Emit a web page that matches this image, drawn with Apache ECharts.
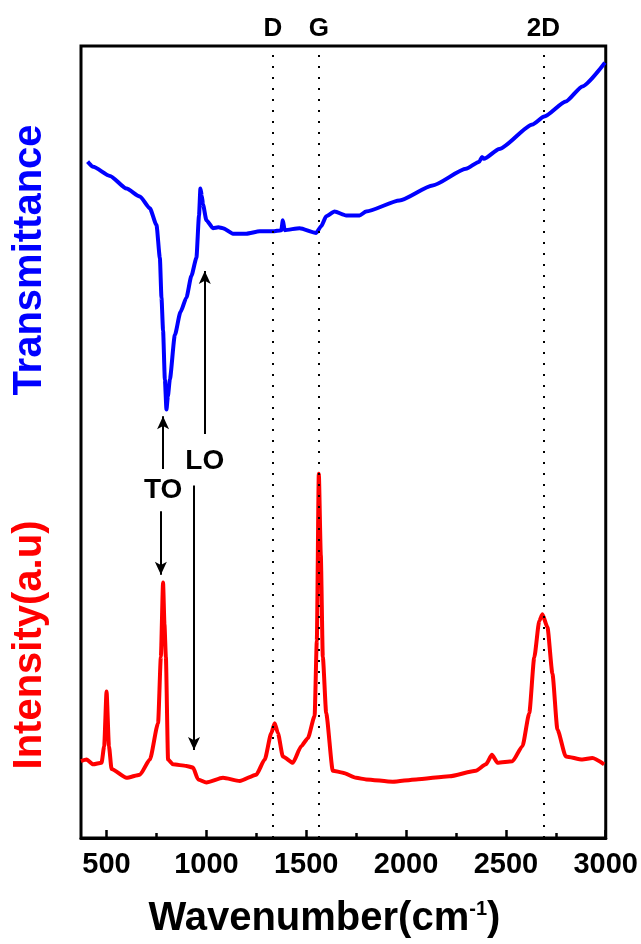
<!DOCTYPE html>
<html>
<head>
<meta charset="utf-8">
<script src="https://cdn.jsdelivr.net/npm/echarts@6/dist/echarts.min.js"></script>
<style>
  html, body { margin: 0; padding: 0; background: #fff; }
  #chart { width: 641px; height: 944px; }
</style>
</head>
<body>
<div id="chart"></div>
<script>
// x range and ticks
const xMin = 372;
const xMax = 3000;
const majorTicks = [500, 1000, 1500, 2000, 2500, 3000];
const minorTicks = [750, 1250, 1750, 2250, 2750];

// transmittance (blue)
const transWn = [405, 433, 517, 600, 667, 717, 750, 767, 775, 783, 792, 800, 807, 817, 842, 870, 900, 925, 950, 963, 970, 977, 983, 1000, 1033, 1060, 1083, 1133, 1200, 1267, 1333, 1375, 1383, 1392, 1467, 1550, 1575, 1600, 1642, 1700, 1767, 1800, 1967, 2133, 2300, 2367, 2380, 2390, 2467, 2633, 2692, 2800, 2883, 2996];
const transVal = [85.4, 84.75, 83.6, 82.0, 81.0, 79.5, 77.4, 73.25, 68.25, 64.1, 57.9, 54.1, 55.75, 57.9, 63.5, 66.4, 68.25, 71.0, 73.25, 78.6, 82.0, 81.1, 80.0, 78.0, 77.0, 77.1, 77.0, 76.3, 76.3, 76.6, 76.6, 76.75, 78.0, 76.75, 77.0, 76.4, 77.25, 78.5, 79.1, 78.6, 78.6, 79.1, 80.5, 82.4, 84.5, 85.4, 86.0, 85.75, 87.0, 90.1, 91.1, 93.0, 94.9, 97.9];

// raman intensity (red)
const ramanWn = [372, 400, 433, 475, 488, 500, 512, 525, 600, 667, 717, 758, 772, 783, 790, 797, 808, 833, 900, 933, 958, 1000, 1083, 1167, 1250, 1292, 1325, 1342, 1358, 1383, 1433, 1475, 1508, 1542, 1553, 1563, 1573, 1583, 1600, 1633, 1683, 1750, 1800, 1933, 2050, 2217, 2350, 2400, 2430, 2458, 2533, 2583, 2617, 2642, 2667, 2683, 2708, 2733, 2758, 2800, 2883, 2933, 2992];
const ramanVal = [9.7, 9.9, 9.3, 9.5, 11.6, 18.5, 11.6, 8.7, 7.6, 8.0, 9.9, 14.5, 22.9, 32.25, 27.0, 22.9, 9.9, 9.3, 9.1, 8.9, 7.4, 7.0, 7.6, 7.2, 8.0, 9.9, 13.25, 14.5, 13.25, 10.3, 9.5, 11.6, 12.6, 15.4, 24.9, 46.0, 35.75, 22.9, 15.75, 8.5, 8.25, 7.6, 7.4, 7.1, 7.4, 7.8, 8.5, 9.3, 10.5, 9.5, 9.7, 11.6, 15.75, 22.8, 27.4, 28.25, 26.6, 20.75, 13.7, 10.3, 9.9, 10.1, 9.3];

// band positions (dotted lines)
const bandNames = ['D', 'G', '2D'];
const bandWn = [1333, 1563, 2688];

// arrows: [x, from, to]
const arrows = [
  [783, 46.6, 53.25],
  [772, 41.25, 33.25],
  [992, 51.0, 71.6],
  [938, 44.5, 11.1]
];
// annotation labels: [text, x, y]
const notes = [
  ['TO', 783, 43.9],
  ['LO', 992, 47.6]
];

const font = 'Liberation Sans, Arial, sans-serif';
const zip = (a, b) => a.map((v, i) => [v, b[i]]);

const chart = echarts.init(document.getElementById('chart'));

const option = {
  animation: false,
  backgroundColor: '#fff',
  grid: {
    left: 81, right: 35, top: 46, bottom: 96,
    show: true, borderColor: '#000', borderWidth: 3
  },
  xAxis: [
    {
      type: 'value', min: xMin, max: xMax,
      axisLine: { show: true, lineStyle: { color: '#000', width: 3 } },
      axisTick: { show: true, inside: true, length: 8, customValues: majorTicks, lineStyle: { color: '#000', width: 2.5 } },
      axisLabel: {
        customValues: majorTicks, formatter: v => String(v),
        color: '#000', fontFamily: font, fontWeight: 'bold', fontSize: 29, margin: 12
      },
      splitLine: { show: false },
      name: '{a|Wavenumber(cm}{s|-1}{a|)}',
      nameLocation: 'middle',
      nameGap: 61,
      nameTextStyle: {
        padding: [0, 38, 0, 0],
        rich: {
          a: { fontFamily: font, fontWeight: 'bold', fontSize: 40, color: '#000' },
          s: { fontFamily: font, fontWeight: 'bold', fontSize: 20, color: '#000', verticalAlign: 'top', padding: [0, 0, 14, 0] }
        }
      }
    },
    {
      type: 'value', min: xMin, max: xMax, position: 'bottom',
      axisLine: { show: false },
      axisTick: { show: true, inside: true, length: 5, customValues: minorTicks, lineStyle: { color: '#000', width: 2.5 } },
      axisLabel: { show: false },
      splitLine: { show: false }
    }
  ],
  yAxis: {
    type: 'value', min: 0, max: 100,
    axisLine: { show: false }, axisTick: { show: false },
    axisLabel: { show: false }, splitLine: { show: false }
  },
  graphic: [
    {
      type: 'text', x: 30, y: 260, rotation: Math.PI / 2,
      style: { text: 'Transmittance', fill: '#0000ff', font: 'bold 40px ' + font, textAlign: 'center', textVerticalAlign: 'middle' }
    },
    {
      type: 'text', x: 30, y: 645, rotation: Math.PI / 2,
      style: { text: 'Intensity(a.u)', fill: '#ff0000', font: 'bold 40px ' + font, textAlign: 'center', textVerticalAlign: 'middle' }
    }
  ],
  series: [
    {
      name: 'Raman',
      type: 'line',
      data: zip(ramanWn, ramanVal),
      showSymbol: false,
      smooth: 0.2,
      smoothMonotone: 'x',
      lineStyle: { color: '#ff0000', width: 4 },
      z: 3,
      markLine: {
        silent: true,
        symbol: 'none',
        lineStyle: { color: '#000', width: 2, type: [2, 9] },
        label: { show: true, position: 'end', distance: 4, color: '#000', fontFamily: font, fontWeight: 'bold', fontSize: 26 },
        data: bandWn.map((w, i) => ({ xAxis: w, label: { formatter: bandNames[i] } }))
      }
    },
    {
      name: 'Transmittance',
      type: 'line',
      data: zip(transWn, transVal),
      showSymbol: false,
      smooth: 0.2,
      smoothMonotone: 'x',
      lineStyle: { color: '#0000ff', width: 4 },
      z: 3,
      markLine: {
        silent: true,
        symbolSize: [9, 13],
        lineStyle: { color: '#000', width: 2, type: 'solid' },
        label: { show: false },
        data: arrows.map(a => [
          { coord: [a[0], a[1]], symbol: 'none' },
          { coord: [a[0], a[2]], symbol: 'arrow' }
        ])
      },
      markPoint: {
        silent: true,
        symbol: 'circle',
        symbolSize: 0,
        label: { show: true, position: 'inside', color: '#000', fontFamily: font, fontWeight: 'bold', fontSize: 28 },
        data: notes.map(n => ({ coord: [n[1], n[2]], label: { formatter: n[0] } }))
      }
    }
  ]
};

chart.setOption(option);
</script>
</body>
</html>
